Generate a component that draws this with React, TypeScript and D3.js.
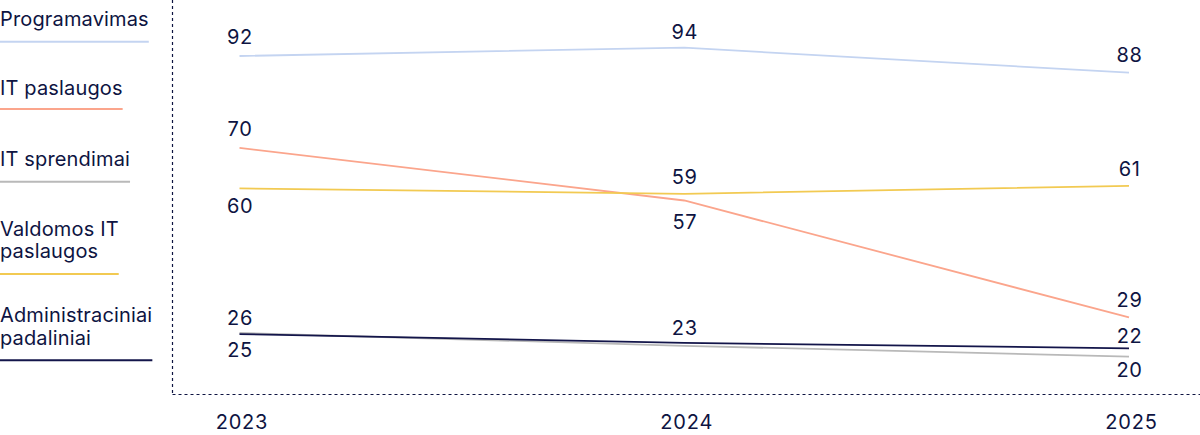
import React, { useEffect, useRef } from "react";
import * as d3 from "d3";

const years = ["2023", "2024", "2025"];
const seriesNames = [
  ["Programavimas"],
  ["IT paslaugos"],
  ["IT sprendimai"],
  ["Valdomos IT", "paslaugos"],
  ["Administraciniai", "padaliniai"],
];
const programavimas = [92, 94, 88];
const itPaslaugos = [70, 57.4, 29.4];
const itSprendimai = [25.7, 22.6, 20];
const valdomos = [60.3, 59, 60.9];
const administraciniai = [25.4, 23.3, 22];
const seriesColors = ["#c4d4f1", "#fba58c", "#b9b9b9", "#f2ca52", "#13154a"];

// label offsets (baseline relative to point), null = no label
const labelDy: (number | null)[][] = [
  [-12.5, -9, -10.5],
  [-11.5, 29, -10.5],
  [-7.5, null, 20],
  [24.5, -10, -10],
  [22.5, -7.5, -5],
];
const legendBaselines = [25.7, 94.5, 166, 235.7, 322.3];
const legendLineY = [41.7, 109, 181.7, 274, 360.3];

const TEXT = "#0e1442";
const FONT = "Inter, 'DejaVu Sans', sans-serif";

export default function App() {
  const ref = useRef<SVGSVGElement>(null);
  useEffect(() => {
    const svg = d3.select(ref.current);
    svg.selectAll("*").remove();
    const values = [programavimas, itPaslaugos, itSprendimai, valdomos, administraciniai];
    const x = d3.scalePoint<string>().domain(years).range([239.5, 1129]);
    const y = d3.scaleLinear().domain([0, 100]).range([440.2, 22.6]);

    // axes (dotted)
    svg.append("line").attr("x1", 172.5).attr("x2", 172.5).attr("y1", 0).attr("y2", 394.5)
      .attr("stroke", TEXT).attr("stroke-width", 1.2).attr("stroke-dasharray", "3,3");
    svg.append("line").attr("x1", 172.5).attr("x2", 1200).attr("y1", 394.5).attr("y2", 394.5)
      .attr("stroke", TEXT).attr("stroke-width", 1.2).attr("stroke-dasharray", "3,3");

    // x-axis labels
    svg.append("g").selectAll("text").data(years).join("text")
      .attr("x", (d) => (x(d) as number) + 2.5)
      .attr("y", 429)
      .attr("text-anchor", "middle")
      .attr("fill", TEXT)
      .attr("font-family", FONT)
      .attr("font-size", 20)
      .attr("letter-spacing", 0.8)
      .text((d) => d);

    const line = d3.line<number>().x((_, i) => x(years[i]) as number).y((d) => y(d));

    values.forEach((vals, si) => {
      svg.append("path").attr("d", line(vals) as string).attr("fill", "none")
        .attr("stroke", seriesColors[si]).attr("stroke-width", 1.8);
    });

    values.forEach((vals, si) => {
      vals.forEach((v, i) => {
        const dy = labelDy[si][i];
        if (dy === null) return;
        svg.append("text")
          .attr("x", (x(years[i]) as number) + 0.5)
          .attr("y", y(v) + dy)
          .attr("text-anchor", "middle")
          .attr("fill", TEXT)
          .attr("font-family", FONT)
          .attr("font-size", 20)
          .attr("letter-spacing", 0.6)
          .text(String(Math.round(v)));
      });
    });

    // legend
    seriesNames.forEach((lines, si) => {
      let maxW = 0;
      lines.forEach((t, li) => {
        const tx = svg.append("text")
          .attr("x", 0)
          .attr("y", legendBaselines[si] + li * 22.6)
          .attr("fill", TEXT)
          .attr("font-family", FONT)
          .attr("font-size", 20)
          .attr("letter-spacing", 0.15)
          .text(t);
        const w = (tx.node() as SVGTextElement).getComputedTextLength();
        if (w > maxW) maxW = w;
      });
      svg.append("line").attr("x1", 0).attr("x2", maxW)
        .attr("y1", legendLineY[si]).attr("y2", legendLineY[si])
        .attr("stroke", seriesColors[si]).attr("stroke-width", 2);
    });
  }, []);
  return (
    <svg ref={ref} width={1200} height={435}
      style={{ position: "absolute", left: 0, top: 0, background: "#fff" }} />
  );
}
